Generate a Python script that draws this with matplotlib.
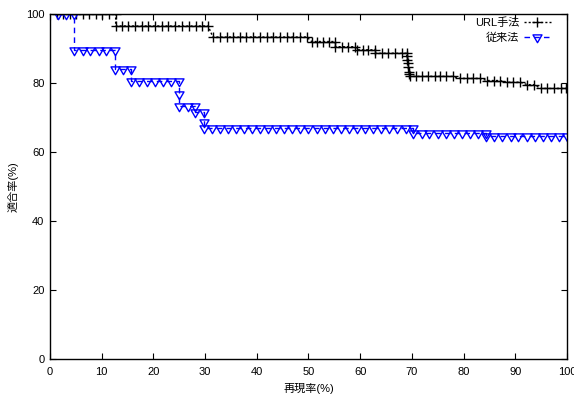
import matplotlib
matplotlib.use("Agg")
import matplotlib.pyplot as plt
from matplotlib.path import Path

plt.rcParams['font.family'] = ['Liberation Sans', 'Noto Sans CJK JP']

# --- Data ---
url_recall = [1.3, 2.5, 3.8, 5.1, 6.3, 7.6, 8.9, 10.1, 11.4, 12.7,
              12.7, 13.9, 15.1, 16.4, 17.7, 19.0, 20.3, 21.6, 22.9, 24.2, 25.6, 26.9, 28.2, 29.4, 30.6,
              31.5, 32.9, 34.2, 35.4, 36.7, 38.0, 39.3, 40.6, 41.9, 43.1, 44.5, 45.8, 47.0, 48.4, 49.7,
              50.6, 51.7, 52.9, 54.0, 55.2,
              55.2, 56.4, 57.7, 58.9,
              59.3, 60.5, 61.6, 62.9,
              62.9, 64.2, 65.4, 66.7, 68.0, 69.0,
              69.0, 69.1, 69.2, 69.3, 69.4, 69.5,
              69.6, 70.8, 71.9, 73.2, 74.5, 75.4, 76.6, 77.9,
              79.3, 80.6, 81.9, 83.2,
              84.5, 85.8, 87.0,
              88.3, 89.6, 91.0,
              92.3, 93.6,
              94.9, 96.2, 97.5, 98.8, 99.9]
url_precision = [100, 100, 100, 100, 100, 100, 100, 100, 100, 100,
                 96.5, 96.5, 96.5, 96.5, 96.5, 96.5, 96.5, 96.5, 96.5, 96.5, 96.5, 96.5, 96.5, 96.5, 96.5,
                 93.3, 93.3, 93.3, 93.3, 93.3, 93.3, 93.3, 93.3, 93.3, 93.3, 93.3, 93.3, 93.3, 93.3, 93.3,
                 92.0, 92.0, 92.0, 92.0, 92.0,
                 90.5, 90.5, 90.5, 90.5,
                 89.6, 89.6, 89.6, 89.6,
                 88.6, 88.6, 88.6, 88.6, 88.6, 88.6,
                 87.8, 86.7, 85.7, 84.5, 83.3, 82.5,
                 81.9, 81.9, 81.9, 81.9, 81.9, 81.9, 81.9, 81.9,
                 81.3, 81.3, 81.3, 81.3,
                 80.7, 80.7, 80.7,
                 80.2, 80.2, 80.2,
                 79.5, 79.5,
                 78.4, 78.4, 78.4, 78.4, 78.4]

conv_recall = [1.6, 3.1, 4.7,
               4.7, 6.3, 7.8, 9.4, 10.9, 12.5,
               12.5, 14.1, 15.6,
               15.6, 17.2, 18.8, 20.3, 21.9, 23.4, 25.0,
               25.0, 25.0, 26.6, 28.1,
               28.1, 29.7,
               29.7,
               29.7, 31.3, 32.8, 34.4, 35.9, 37.5, 39.1, 40.6, 42.2, 43.8, 45.3, 46.9, 48.4, 50.0,
               51.6, 53.1, 54.7, 56.3, 57.8, 59.4, 60.9, 62.5, 64.1, 65.6, 67.2, 68.8, 70.3,
               70.3, 71.9, 73.4, 75.0, 76.6, 78.1, 79.7, 81.3, 82.8, 84.4,
               84.4, 85.9, 87.5, 89.1, 90.6, 92.2, 93.8, 95.3, 96.9, 98.4, 100.0]
conv_precision = [100, 100, 100,
                  89.6, 89.6, 89.6, 89.6, 89.6, 89.6,
                  84.1, 84.1, 84.1,
                  80.7, 80.7, 80.7, 80.7, 80.7, 80.7, 80.7,
                  76.8, 73.4, 73.4, 73.4,
                  71.5, 71.5,
                  68.7,
                  66.9, 66.9, 66.9, 66.9, 66.9, 66.9, 66.9, 66.9, 66.9, 66.9, 66.9, 66.9, 66.9, 66.9,
                  66.9, 66.9, 66.9, 66.9, 66.9, 66.9, 66.9, 66.9, 66.9, 66.9, 66.9, 66.9, 66.9,
                  65.6, 65.6, 65.6, 65.6, 65.6, 65.6, 65.6, 65.6, 65.6, 65.6,
                  64.7, 64.7, 64.7, 64.7, 64.7, 64.7, 64.7, 64.7, 64.7, 64.7, 64.7]

series_labels = ["URL手法", "従来法"]

# gnuplot-like inverted triangle (point sits 1/3 below the top edge)
tri_down = Path([(0, -4 / 3), (-1.15, 2 / 3), (1.15, 2 / 3), (0, -4 / 3)], closed=True)

fig = plt.figure(figsize=(5.74, 3.98), dpi=100)
ax = fig.add_axes([0.0871, 0.098, 0.9007, 0.867])

ax.plot(url_recall, url_precision, color='black', lw=1.0, ls=(0, (1.5, 1.5)),
        marker='+', ms=7.5, mew=1.0, label=series_labels[0])
ax.plot(conv_recall, conv_precision, color='#0000ff', lw=1.0, ls=(0, (4, 3)),
        marker=tri_down, ms=7.5, mew=1.0, mfc='none', mec='#0000ff', label=series_labels[1])

ax.set_xlim(0, 100)
ax.set_ylim(0, 100)
ax.set_xticks(range(0, 101, 10))
ax.set_yticks(range(0, 101, 20))
ax.tick_params(direction='in', top=True, right=True, length=4, width=0.8,
               labelsize=8, colors='black')
ax.tick_params(axis='x', pad=6)
ax.tick_params(axis='y', pad=4)
for s in ax.spines.values():
    s.set_linewidth(1.0)

ax.set_xlabel("再現率(%)", fontsize=8, labelpad=4)
ax.set_ylabel("適合率(%)", fontsize=8, labelpad=5)

ax.legend(loc='upper right', bbox_to_anchor=(0.975, 1.0), frameon=False,
          markerfirst=False, fontsize=8, handlelength=2.4, handletextpad=0.4,
          labelspacing=0.45, borderaxespad=0.2, borderpad=0.1)

fig.savefig("out.png", dpi=100)
